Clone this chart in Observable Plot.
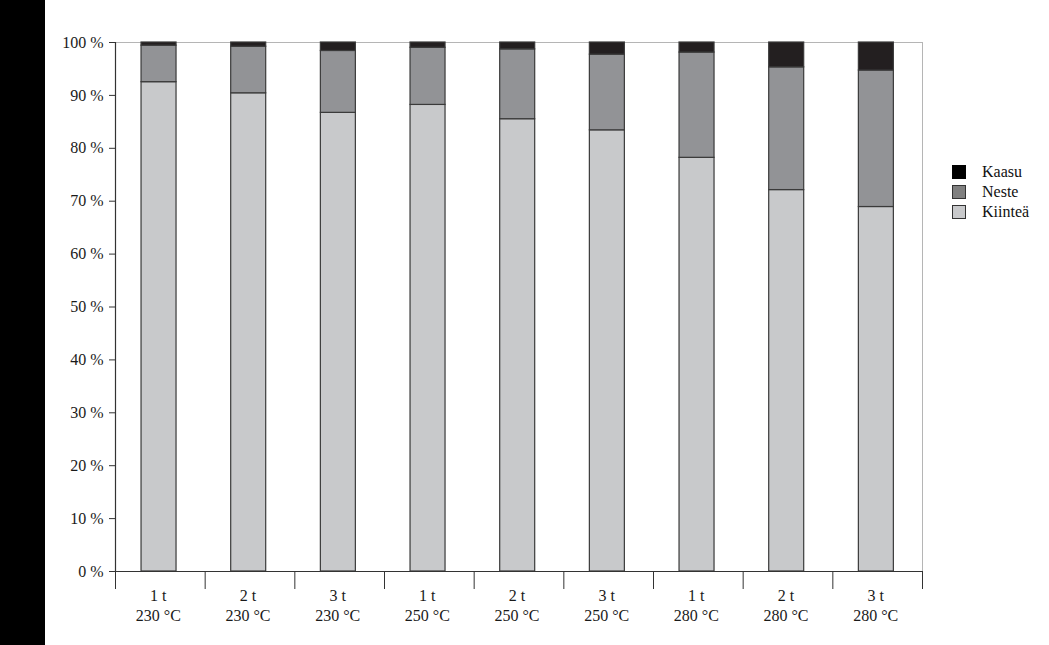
<!DOCTYPE html>
<html>
<head>
<meta charset="utf-8">
<script src="https://cdn.jsdelivr.net/npm/d3@7"></script>
<script src="https://cdn.jsdelivr.net/npm/@observablehq/plot@0.6"></script>
<style>
  html, body { margin: 0; padding: 0; background: #fff; }
  body { width: 1049px; height: 645px; position: relative; overflow: hidden; font-family: "Liberation Serif", serif; }
  #band { position: absolute; left: 0; top: 0; width: 45px; height: 645px; background: #000; z-index: 2; }
  #chart { position: absolute; left: 0; top: 0; }
  #legend { position: absolute; left: 952px; top: 162px; font-size: 16px; color: #111; }
  .row { display: flex; align-items: center; height: 20px; }
  .sw { width: 12px; height: 12px; border: 1px solid #333; margin-right: 16px; box-sizing: content-box; }
</style>
</head>
<body>
<div id="band"></div>
<div id="chart"></div>
<div id="legend"></div>
<script>
const categories = ["1 t\n230 °C", "2 t\n230 °C", "3 t\n230 °C", "1 t\n250 °C", "2 t\n250 °C", "3 t\n250 °C", "1 t\n280 °C", "2 t\n280 °C", "3 t\n280 °C"];
const phases = ["Kiinteä", "Neste", "Kaasu"];
const phaseColors = ["#c8c9cb", "#929396", "#231f20"];
const kiintea = [92.5, 90.4, 86.7, 88.2, 85.5, 83.4, 78.2, 72.1, 68.9];
const neste = [6.9, 8.8, 11.7, 10.8, 13.2, 14.3, 19.9, 23.2, 25.8];
const kaasu = [0.6, 0.8, 1.6, 1.0, 1.3, 2.3, 1.9, 4.7, 5.3];
const yTicks = [0, 10, 20, 30, 40, 50, 60, 70, 80, 90, 100];

const series = [kiintea, neste, kaasu];
const data = [];
categories.forEach((c, i) => {
  phases.forEach((p, j) => data.push({cat: c, phase: p, value: series[j][i]}));
});

const W = 1049, H = 645, ML = 115, MR = 127, MT = 42, MB = 74;
const bw = (W - ML - MR) / categories.length;
const barW = 35;
const inset = (bw - barW) / 2;

const chart = Plot.plot({
  width: W,
  height: H,
  marginLeft: ML,
  marginRight: MR,
  marginTop: MT,
  marginBottom: MB,
  style: {fontFamily: "Liberation Serif", fontSize: "16px", color: "#1a1a1a", background: "transparent"},
  x: {domain: categories, padding: 0, round: false, label: null},
  y: {domain: [0, 100], label: null},
  color: {domain: phases, range: phaseColors},
  marks: [
    Plot.frame({stroke: "#b5b5b5"}),
    Plot.barY(data, {
      x: "cat", y: "value", fill: "phase", order: phases,
      stroke: "#3a3a3a", strokeWidth: 1.2,
      insetLeft: inset - 1.3, insetRight: inset + 1.3
    }),
    Plot.ruleY([0], {stroke: "#333", strokeWidth: 1.2}),
    Plot.frame({anchor: "left", stroke: "#333", strokeWidth: 1.2}),
    Plot.axisY({ticks: yTicks, tickFormat: d => d + " %", tickSize: 6, tickPadding: 6, stroke: "#333", fontSize: 16, label: null}),
    Plot.axisX({ticks: categories, tickFormat: () => "", tickSize: 18, dx: -bw / 2, stroke: "#333", label: null}),
    Plot.axisX({ticks: [categories[categories.length - 1]], tickFormat: () => "", tickSize: 18, dx: bw / 2, stroke: "#333", label: null}),
    Plot.axisX({tickSize: 0, tickPadding: 15, lineHeight: 1.25, fontSize: 16, dx: -2, label: null})
  ]
});
document.getElementById("chart").appendChild(chart);

const legend = document.getElementById("legend");
[2, 1, 0].forEach(j => {
  const row = document.createElement("div");
  row.className = "row";
  const sw = document.createElement("div");
  sw.className = "sw";
  sw.style.background = j === 2 ? "#000" : (j === 1 ? "#808080" : "#c8c9cb");
  if (j === 2) sw.style.borderColor = "#000";
  const t = document.createElement("span");
  t.textContent = phases[j];
  row.appendChild(sw);
  row.appendChild(t);
  legend.appendChild(row);
});
</script>
</body>
</html>
